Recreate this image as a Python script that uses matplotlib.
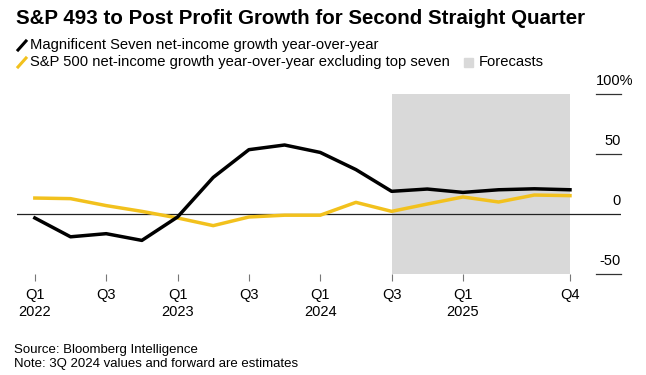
import numpy as np
import matplotlib
matplotlib.use("Agg")
import matplotlib.pyplot as plt
import matplotlib.transforms as mtransforms
from matplotlib.lines import Line2D
from matplotlib.patches import Rectangle

W, H = 646, 375
plt.rcParams['font.family'] = ['Liberation Sans', 'DejaVu Sans']

quarters = ["Q1 2022", "Q2 2022", "Q3 2022", "Q4 2022",
            "Q1 2023", "Q2 2023", "Q3 2023", "Q4 2023",
            "Q1 2024", "Q2 2024", "Q3 2024", "Q4 2024",
            "Q1 2025", "Q2 2025", "Q3 2025", "Q4 2025"]
mag7 = [-3.3, -19, -16.4, -22, -2.5, 30.5, 53.6, 57.5,
        51.3, 37, 18.9, 20.8, 18, 20.2, 21, 20.2]
sp493 = [13.3, 12.8, 7, 2.2, -3.3, -9.7, -2.5, -1,
         -1, 9.7, 2.2, 8.3, 14.2, 10, 15.8, 15.3]
forecast_start, forecast_end = "Q3 2024", "Q4 2025"
xtick_quarters = ["Q1 2022", "Q3 2022", "Q1 2023", "Q3 2023",
                  "Q1 2024", "Q3 2024", "Q1 2025", "Q4 2025"]
xtick_labels = ["Q1\n2022", "Q3", "Q1\n2023", "Q3", "Q1\n2024", "Q3", "Q1\n2025", "Q4"]
yticks = [100, 50, 0, -50]
ytick_labels = ["100%", "50", "0", "-50"]

BLACK = "#000000"
YELLOW = "#f2c11d"
SHADE = "#d9d9d9"

x = np.arange(len(quarters))

fig = plt.figure(figsize=(W / 100, H / 100), dpi=100)
ax = fig.add_axes([17 / W, (H - 274) / H, (621 - 17) / W, (274 - 94) / H])
ax.set_xlim(-0.5, 16.43)
ax.set_ylim(-50, 100)

fs = quarters.index(forecast_start)
fe = quarters.index(forecast_end)
ax.axvspan(fs, fe, color=SHADE, lw=0, zorder=0)

ax.axhline(0, color="#222222", lw=0.9, zorder=1)
ax.plot(x, sp493, color=YELLOW, lw=2.5, solid_joinstyle="round", zorder=3)
ax.plot(x, mag7, color=BLACK, lw=2.5, solid_joinstyle="round", zorder=4)

# right-hand y labels sitting above short rules
for v, lab in zip(yticks, ytick_labels):
    if v != 0:
        ax.axhline(v, xmin=0.9586, xmax=1.0, color="#333333", lw=0.9, clip_on=False)
    dx = 12 / 100 if lab.endswith("%") else 0
    trans = ax.get_yaxis_transform() + mtransforms.ScaledTranslation(dx, 6 / 100, fig.dpi_scale_trans)
    ax.text(1.0, v, lab, transform=trans, ha="right", va="bottom", fontsize=10.5)

ax.set_yticks([])
ax.set_xticks([quarters.index(q) for q in xtick_quarters])
ax.set_xticklabels(xtick_labels, fontsize=10.5, linespacing=1.3)
ax.tick_params(axis="x", length=5, width=0.8, color="#777777", pad=5)
for s in ax.spines.values():
    s.set_visible(False)

# title and legend
fig.text(16 / W, 1 - 19 / H, "S&P 493 to Post Profit Growth for Second Straight Quarter",
         fontsize=14.8, fontweight="bold", va="center")
fig.add_artist(Line2D([18 / W, 26 / W], [1 - 50 / H, 1 - 41 / H], color=BLACK, lw=2.2))
fig.text(30 / W, 1 - 45 / H, "Magnificent Seven net-income growth year-over-year", fontsize=10.6, va="center")
fig.add_artist(Line2D([18 / W, 26 / W], [1 - 67 / H, 1 - 58 / H], color=YELLOW, lw=2.2))
fig.text(30 / W, 1 - 62 / H, "S&P 500 net-income growth year-over-year excluding top seven",
         fontsize=10.6, va="center")
fig.add_artist(Rectangle((464 / W, 1 - 67 / H), 9 / W, 9 / H, color=SHADE, transform=fig.transFigure))
fig.text(479 / W, 1 - 62 / H, "Forecasts", fontsize=10.6, va="center")

fig.text(14 / W, 1 - 350 / H, "Source: Bloomberg Intelligence", fontsize=9.5, va="center")
fig.text(14 / W, 1 - 364 / H, "Note: 3Q 2024 values and forward are estimates", fontsize=9.5, va="center")

fig.savefig("out.png", dpi=100)
